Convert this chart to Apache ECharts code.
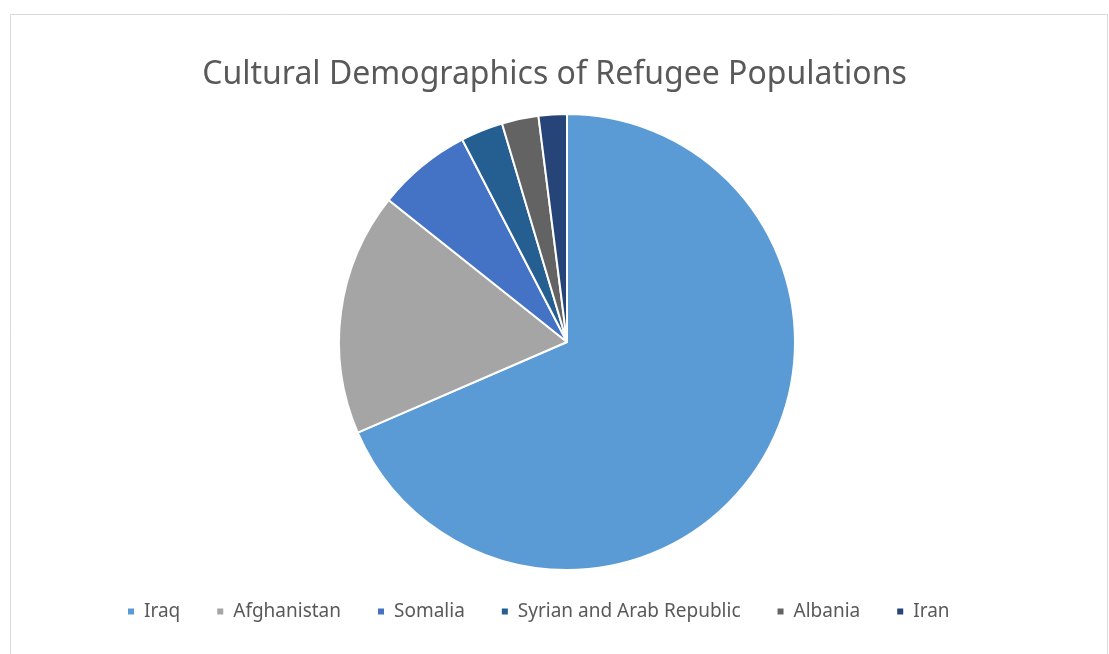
<!DOCTYPE html>
<html>
<head>
<meta charset="utf-8">
<script src="https://cdn.jsdelivr.net/npm/echarts@6/dist/echarts.min.js"></script>
<style>
html,body{margin:0;padding:0;background:#fff;}
#chart{width:1109px;height:654px;}
</style>
</head>
<body>
<div id="chart"></div>
<script>
const categories = ["Iraq", "Afghanistan", "Somalia", "Syrian and Arab Republic", "Albania", "Iran"];
const values = [68.5, 17.2, 6.7, 3.0, 2.6, 2.0];
const colors = ["#5B9BD5", "#A5A5A5", "#4472C4", "#255E91", "#636363", "#264478"];

const chart = echarts.init(document.getElementById('chart'));
chart.setOption({
  animation: false,
  backgroundColor: '#ffffff',
  graphic: [{
    type: 'rect',
    shape: {x: 10.5, y: 14.5, width: 1097, height: 660},
    style: {fill: 'none', stroke: '#d9d9d9', lineWidth: 1},
    silent: true
  }],
  title: {
    text: 'Cultural Demographics of Refugee Populations',
    left: 'center',
    top: 54,
    textStyle: {
      fontFamily: 'Noto Sans',
      fontSize: 32,
      fontWeight: 'normal',
      color: '#595959'
    }
  },
  color: colors,
  legend: {
    top: 602,
    left: 126,
    icon: 'rect',
    itemWidth: 8,
    itemHeight: 8,
    itemGap: 35,
    padding: [0, 0, 0, 0],
    textStyle: {
      fontFamily: 'Noto Sans',
      fontSize: 19,
      color: '#595959',
      padding: [0, 0, 0, 4]
    },
    data: categories
  },
  series: [{
    type: 'pie',
    center: [567, 342],
    radius: [0, 228],
    startAngle: 90,
    clockwise: true,
    label: {show: false},
    labelLine: {show: false},
    emphasis: {disabled: true},
    itemStyle: {borderColor: '#ffffff', borderWidth: 2},
    data: categories.map((c, i) => ({name: c, value: values[i]}))
  }]
});
</script>
</body>
</html>
